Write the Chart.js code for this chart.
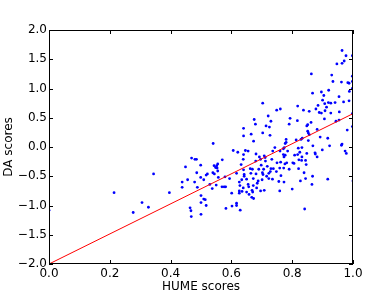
<!DOCTYPE html>
<html>
<head>
<meta charset="utf-8">
<script src="https://cdn.jsdelivr.net/npm/chart.js@4.4.1/dist/chart.umd.min.js"></script>
<style>
  html, body { margin: 0; padding: 0; background: #fff; }
  #wrap { width: 392px; height: 294px; }
</style>
</head>
<body>
<div id="wrap"><canvas id="scoreChart"></canvas></div>
<script>
// HUME vs DA scores
const humeScores = [
  0.000,0.214,0.277,0.306,0.327,0.344,0.396,0.438,0.438,0.449,
  0.456,0.464,0.467,0.468,0.469,0.479,0.480,0.485,0.486,0.488,
  0.499,0.499,0.500,0.500,0.500,0.509,0.509,0.514,0.517,0.521,
  0.517,0.529,0.537,0.539,0.544,0.540,0.543,0.552,0.555,0.548,
  0.553,0.555,0.550,0.557,0.570,0.569,0.576,0.581,0.579,0.582,
  0.594,0.601,0.602,0.606,0.617,0.617,0.617,0.621,0.626,0.626,
  0.626,0.628,0.629,0.632,0.634,0.639,0.635,0.640,0.640,0.640,
  0.639,0.640,0.642,0.642,
  0.646,0.655,0.650,0.655,0.657,0.650,0.658,0.662,0.669,0.664,
  0.665,0.673,0.668,0.670,0.667,0.673,0.672,0.672,0.681,0.680,
  0.681,0.683,0.688,0.685,0.690,0.692,0.696,0.696,0.698,0.701,
  0.702,0.704,0.703,0.706,0.708,0.711,0.708,0.712,0.716,0.718,
  0.723,0.723,0.728,0.727,0.730,0.738,0.733,0.736,0.735,0.743,
  0.748,0.750,0.756,0.759,0.759,0.760,0.762,0.763,0.771,0.774,
  0.771,0.777,0.773,0.772,0.773,0.776,0.782,0.780,0.780,0.777,
  0.785,0.790,0.800,0.802,0.806,0.808,0.818,0.822,0.821,
  0.703,0.749,0.761,0.818,0.675,0.721,0.793,0.730,0.817,0.679,0.714,0.725,0.790,
  0.964,0.977,0.998,0.947,0.964,0.971,0.863,0.930,0.998,0.934,
  0.962,0.983,0.987,0.998,0.920,0.896,0.867,0.904,0.988,0.998,
  0.954,0.900,0.919,0.927,0.907,0.941,0.969,0.987,0.885,0.913,
  0.837,0.856,0.878,0.908,0.889,0.896,0.927,0.955,0.998,0.906,
  0.862,0.944,0.954,0.851,0.848,0.882,0.998,
  0.981,0.851,0.853,0.892,0.917,0.856,0.833,0.829,0.813,0.853,
  0.868,0.923,0.962,0.964,0.974,0.978,0.820,0.832,0.825,0.848,
  0.875,0.876,0.899,0.882,0.832,0.831,0.844,0.846,0.839,0.867,
  0.844,0.827,0.917,0.865,1.000,0.841
];
const daScores = [
  -1.08,-0.78,-1.12,-0.95,-1.03,-0.46,-0.78,-0.69,-0.60,-0.34,
  -0.56,-1.04,-1.09,-1.19,-0.19,-0.60,-0.21,-0.21,-0.44,-0.69,
  -0.31,-0.52,-0.83,-0.95,-1.15,-0.56,-0.89,-0.90,-0.48,-0.46,
  -1.00,-0.64,-0.71,-0.44,-0.46,0.06,-0.32,-0.32,-0.29,-0.35,
  -0.36,-0.41,-0.65,-0.52,-0.22,-0.68,-0.68,-0.68,-0.51,-1.05,
  -0.54,-0.79,-1.01,-0.06,-0.45,-0.96,-1.00,-0.09,-0.60,-0.75,
  -0.79,-0.66,-1.08,-0.30,-0.56,-0.70,-0.76,0.19,0.32,-0.13,
  -0.21,-0.39,-0.47,-0.50,
  -0.06,-0.07,-0.55,-0.64,-0.68,-0.77,-0.81,-0.37,-0.38,-0.45,
  0.22,0.10,-0.74,-0.77,-0.86,-0.88,-0.54,-0.66,-0.12,-0.24,
  -0.46,-0.70,-0.58,-0.62,-0.38,-0.17,-0.21,-0.75,-0.31,-0.56,
  -0.44,-0.47,0.24,-0.38,-0.15,-0.18,-0.74,-0.24,-0.50,-0.33,
  -0.45,-0.54,-0.42,0.20,-0.37,-0.37,-0.21,-0.07,-0.55,-0.01,
  -0.42,-0.27,-0.59,-0.75,-0.36,-0.07,-0.26,-0.49,-0.03,-0.01,
  -0.13,-0.14,-0.17,-0.36,-0.60,-0.29,-0.27,0.13,0.08,0.06,
  -0.07,-0.38,-0.72,-0.27,-0.28,-0.14,-0.13,-0.22,-0.37,
  0.75,0.63,0.65,0.70,0.47,0.53,0.49,0.44,0.45,0.39,0.36,0.34,0.39,
  1.65,1.56,1.56,1.42,1.43,1.47,1.25,1.23,1.21,1.12,
  1.11,1.10,1.09,1.12,0.97,0.94,0.92,0.88,0.95,1.00,
  0.86,0.80,0.76,0.75,0.74,0.76,0.77,0.79,0.71,0.68,
  0.63,0.61,0.65,0.62,0.59,0.58,0.58,0.60,0.57,0.48,
  0.42,0.44,0.46,0.38,0.36,0.30,0.35,
  0.29,0.27,0.24,0.17,0.15,0.21,0.15,0.13,0.12,0.11,
  0.02,0.02,0.03,0.05,-0.07,-0.11,-0.02,-0.01,-0.09,-0.11,
  -0.10,-0.12,-0.05,-0.17,-0.17,-0.23,-0.23,-0.30,-0.44,-0.50,
  -0.54,-0.58,-0.55,-0.64,-0.58,-1.06
];

// fitted line end points
const fitX = [0, 1];
const fitY = [-2.0, 0.57];

// tick values on the two axes
const xTicks = [0.0, 0.2, 0.4, 0.6, 0.8, 1.0];
const yTicks = [-2.0, -1.5, -1.0, -0.5, 0.0, 0.5, 1.0, 1.5, 2.0];

const xLabel = "HUME scores";
const yLabel = "DA scores";

const font = { family: "'DejaVu Sans', sans-serif", size: 12 };

// matplotlib-ish frame with inward ticks on all four sides
const frameTicks = {
  id: "frameTicks",
  afterDatasetsDraw(chart) {
    const { ctx, chartArea: a, scales } = chart;
    const x = scales.x, y = scales.y;
    ctx.save();
    ctx.strokeStyle = "#000";
    ctx.lineWidth = 1;
    ctx.beginPath();
    x.ticks.forEach(t => {
      const px = Math.round(x.getPixelForValue(t.value)) + 0.5;
      ctx.moveTo(px, a.bottom); ctx.lineTo(px, a.bottom - 4);
      ctx.moveTo(px, a.top); ctx.lineTo(px, a.top + 4);
    });
    y.ticks.forEach(t => {
      const py = Math.round(y.getPixelForValue(t.value)) + 0.5;
      ctx.moveTo(a.left, py); ctx.lineTo(a.left + 4, py);
      ctx.moveTo(a.right, py); ctx.lineTo(a.right - 4, py);
    });
    ctx.stroke();
    ctx.strokeRect(a.left + 0.5, a.top + 0.5, a.right - a.left - 1, a.bottom - a.top - 1);
    ctx.restore();
  }
};

const fmt = v => Number(v).toFixed(1).replace("-", "\u2212");

new Chart(document.getElementById("scoreChart"), {
  type: "scatter",
  data: {
    datasets: [
      {
        type: "line",
        data: fitX.map((v, i) => ({ x: v, y: fitY[i] })),
        borderColor: "red",
        borderWidth: 1,
        pointRadius: 0,
        fill: false,
        clip: 0
      },
      {
        data: humeScores.map((v, i) => ({ x: v, y: daScores[i] })),
        backgroundColor: "blue",
        borderWidth: 0,
        pointRadius: 1.4,
        clip: 0
      }
    ]
  },
  options: {
    responsive: true,
    maintainAspectRatio: false,
    animation: false,
    layout: { padding: { left: 0, right: 39, top: 30, bottom: 0 } },
    plugins: { legend: { display: false }, tooltip: { enabled: false } },
    scales: {
      x: {
        type: "linear",
        min: 0, max: 1,
        grid: { display: false, drawTicks: false, tickLength: 0 },
        border: { display: false },
        afterBuildTicks: s => { s.ticks = xTicks.map(v => ({ value: v })); },
        ticks: { autoSkip: false, color: "#000", font: font, padding: 3, callback: fmt, maxRotation: 0 },
        title: { display: true, text: xLabel, color: "#000", font: font, padding: { top: 0, bottom: 0 } },
        afterFit: s => { s.height = 30; }
      },
      y: {
        min: -2, max: 2,
        grid: { display: false, drawTicks: false, tickLength: 0 },
        border: { display: false },
        afterBuildTicks: s => { s.ticks = yTicks.map(v => ({ value: v })); },
        ticks: { autoSkip: false, color: "#000", font: font, padding: 2, callback: fmt },
        title: { display: true, text: yLabel, color: "#000", font: font, padding: { top: 2, bottom: 0 } },
        afterFit: s => { s.width = 49; }
      }
    }
  },
  plugins: [frameTicks]
});
</script>
</body>
</html>
